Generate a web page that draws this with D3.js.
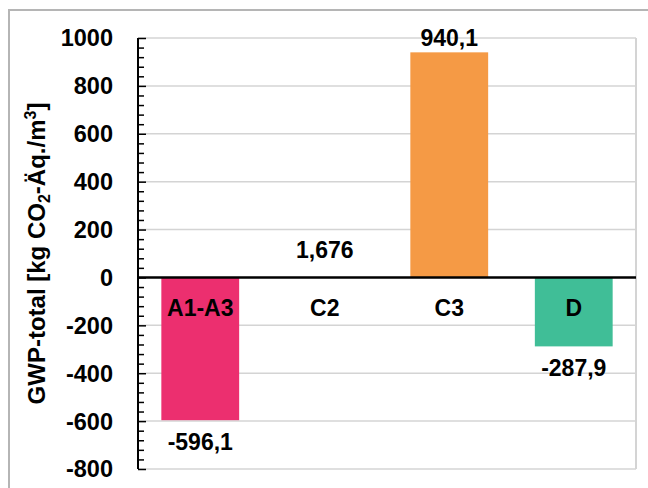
<!DOCTYPE html>
<html>
<head>
<meta charset="utf-8">
<script src="https://cdn.jsdelivr.net/npm/d3@7"></script>
<style>
  html, body { margin: 0; padding: 0; background: #fff; }
  svg { display: block; }
  text { font-family: "Liberation Sans", Arial, sans-serif; font-weight: bold; fill: #000; }
</style>
</head>
<body>
<svg id="chart" width="648" height="488"></svg>
<script>
// Module stages and their GWP-total values
const categories = ["A1-A3", "C2", "C3", "D"];
const values = [-596.1, 1.676, 940.1, -287.9];
const valueLabels = ["-596,1", "1,676", "940,1", "-287,9"];
const colors = ["#EC2F6F", "#FFFFFF", "#F59A45", "#40BE97"];
const tickValues = [1000, 800, 600, 400, 200, 0, -200, -400, -600, -800];

const svg = d3.select("#chart");
const W = 648, H = 488;
const plot = { left: 138, right: 636, top: 38, bottom: 469 };

// Outer frame
svg.append("path")
  .attr("d", `M9,${H + 2} V10 H${W + 2}`)
  .attr("fill", "none")
  .attr("stroke", "#b5b5b5")
  .attr("stroke-width", 2);

const x = d3.scaleBand()
  .domain(categories)
  .range([plot.left, plot.right])
  .paddingInner(0.375)
  .paddingOuter(0.1875);

const y = d3.scaleLinear()
  .domain([-800, 1000])
  .range([plot.bottom, plot.top]);

// Gridlines
svg.append("g")
  .selectAll("line")
  .data(tickValues.filter(d => d !== 0))
  .join("line")
  .attr("x1", plot.left)
  .attr("x2", plot.right)
  .attr("y1", d => y(d))
  .attr("y2", d => y(d))
  .attr("stroke", "#d4d4d4")
  .attr("stroke-width", 1.5);

// Right border of the plot area
svg.append("line")
  .attr("x1", plot.right).attr("x2", plot.right)
  .attr("y1", plot.top).attr("y2", plot.bottom)
  .attr("stroke", "#d4d4d4")
  .attr("stroke-width", 2);

// Bars
svg.append("g")
  .selectAll("rect")
  .data(categories.map((c, i) => ({ c, v: values[i], col: colors[i] })))
  .join("rect")
  .attr("x", d => x(d.c))
  .attr("width", x.bandwidth())
  .attr("y", d => y(Math.max(0, d.v)))
  .attr("height", d => Math.abs(y(d.v) - y(0)))
  .attr("fill", d => d.col);

// Zero line
svg.append("line")
  .attr("x1", plot.left).attr("x2", plot.right)
  .attr("y1", y(0)).attr("y2", y(0))
  .attr("stroke", "#000")
  .attr("stroke-width", 2.5);

// Y axis with minor ticks pointing into the plot
const minor = d3.range(-800, 1001, 40).filter(v => v % 200 !== 0);
const axisG = svg.append("g").attr("transform", `translate(${plot.left},0)`);
axisG.call(d3.axisRight(y).tickValues(minor).tickSize(6).tickFormat(""));
axisG.call(g => g.selectAll(".tick line").attr("stroke", "#000").attr("stroke-width", 1.5));
const axisMajor = svg.append("g").attr("transform", `translate(${plot.left},0)`);
axisMajor.call(d3.axisRight(y).tickValues(tickValues).tickSize(8).tickFormat(""));
axisMajor.selectAll(".tick line").attr("stroke", "#000").attr("stroke-width", 1.5);
axisMajor.select(".domain").attr("stroke", "#000").attr("stroke-width", 2).attr("d", `M0,${plot.top}V${plot.bottom}`);
axisG.select(".domain").remove();

// Tick labels
svg.append("g")
  .selectAll("text")
  .data(tickValues)
  .join("text")
  .attr("x", 113)
  .attr("y", d => y(d))
  .attr("dy", "0.36em")
  .attr("text-anchor", "end")
  .attr("font-size", 23.5)
  .text(d => d);

// Category labels inside the plot, just below the zero line
svg.append("g")
  .selectAll("text")
  .data(categories)
  .join("text")
  .attr("x", d => x(d) + x.bandwidth() / 2)
  .attr("y", 316)
  .attr("text-anchor", "middle")
  .attr("font-size", 23)
  .text(d => d);

// Value labels
svg.append("g")
  .selectAll("text")
  .data(categories.map((c, i) => ({ c, v: values[i], t: valueLabels[i] })))
  .join("text")
  .attr("x", d => x(d.c) + x.bandwidth() / 2)
  .attr("y", d => d.v > 100 ? y(d.v) - 6 : (d.v < 0 ? y(d.v) + 29.5 : y(0) - 19))
  .attr("text-anchor", "middle")
  .attr("font-size", 23)
  .text(d => d.t);

// Y axis title
const title = svg.append("text")
  .attr("transform", `translate(45,${(plot.top + plot.bottom) / 2}) rotate(-90)`)
  .attr("text-anchor", "middle")
  .attr("font-size", 24);
title.append("tspan").text("GWP-total [kg CO");
title.append("tspan").attr("font-size", 16).attr("dy", 5).text("2");
title.append("tspan").attr("dy", -5).text("-Äq./m");
title.append("tspan").attr("font-size", 16).attr("dy", -9).text("3");
title.append("tspan").attr("dy", 9).text("]");
</script>
</body>
</html>
